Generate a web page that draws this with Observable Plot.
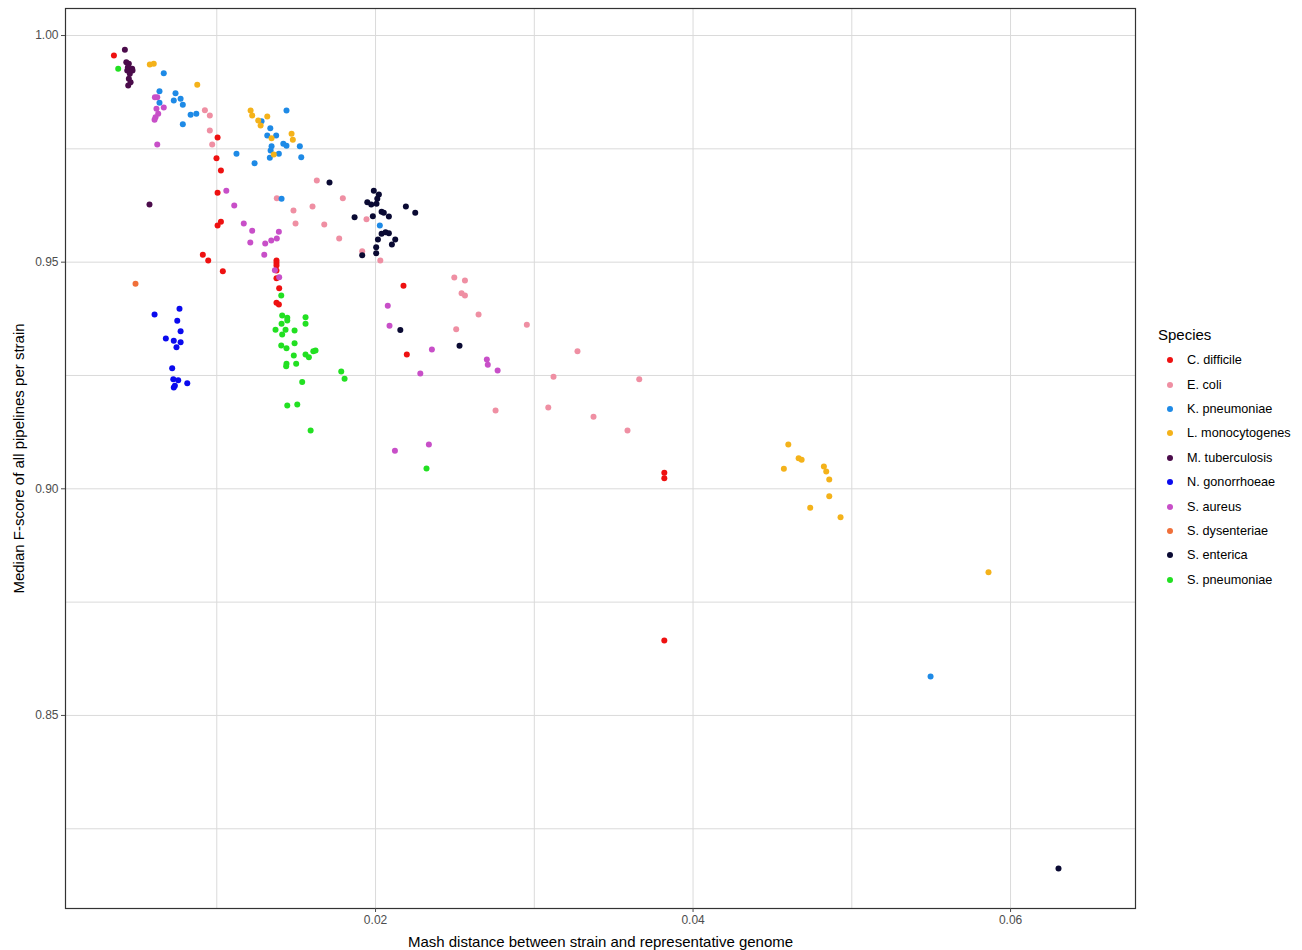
<!DOCTYPE html>
<html><head><meta charset="utf-8">
<script src="https://cdn.jsdelivr.net/npm/d3@7"></script>
<script src="https://cdn.jsdelivr.net/npm/@observablehq/plot@0.6"></script>
<style>
html,body{margin:0;padding:0;background:#fff;}
#wrap{position:relative;width:1302px;height:950px;font-family:"Liberation Sans",Arial,sans-serif;}
#legend{position:absolute;left:1158px;top:324px;color:#000;}
#legend .title{font-size:15px;height:24px;line-height:22px;}
#legend .item{height:24.4px;display:flex;align-items:center;font-size:12.7px;}
#legend .dot{width:6px;height:6px;border-radius:50%;margin-left:9px;margin-right:14px;}
svg [aria-label="x-axis label"] text, svg [aria-label="y-axis label"] text{fill:#000;font-size:15px;}
</style></head>
<body><div id="wrap"></div>
<script>
const species = ["C. difficile","E. coli","K. pneumoniae","L. monocytogenes","M. tuberculosis","N. gonorrhoeae","S. aureus","S. dysenteriae","S. enterica","S. pneumoniae"];
const speciesColors = ["#ee1111","#ef8fa3","#1e8ae6","#f4b21a","#4b0c4b","#0a0aee","#c84fc8","#f0703a","#0a0a33","#22e022"];
const xTicks = [0.02,0.04,0.06];
const yTicks = [0.85,0.90,0.95,1.00];

const cDifficile = [[0.00352,0.99559],[0.01005,0.97750],[0.00998,0.97293],[0.01026,0.97022],[0.01005,0.96530],[0.01026,0.95890],[0.01005,0.95809],[0.00912,0.95162],[0.00946,0.95036],[0.01038,0.94800],[0.01376,0.95036],[0.01376,0.94981],[0.01376,0.94926],[0.01376,0.94816],[0.01376,0.94646],[0.01393,0.94425],[0.01376,0.94103],[0.01391,0.94066],[0.02176,0.94478],[0.02197,0.92963],[0.03819,0.90353],[0.03819,0.90234],[0.03819,0.86653]];
const eColi = [[0.00925,0.98352],[0.00956,0.98235],[0.00956,0.97904],[0.00971,0.97595],[0.01378,0.96411],[0.01630,0.96801],[0.01794,0.96411],[0.01483,0.96139],[0.01603,0.96228],[0.01496,0.95853],[0.01677,0.95831],[0.01771,0.95522],[0.01943,0.95947],[0.01916,0.95242],[0.02030,0.95036],[0.02496,0.94661],[0.02563,0.94595],[0.02542,0.94315],[0.02563,0.94264],[0.02649,0.93845],[0.02508,0.93521],[0.02953,0.93618],[0.03272,0.93036],[0.03121,0.92471],[0.03661,0.92418],[0.02756,0.91727],[0.03088,0.91794],[0.03373,0.91588],[0.03587,0.91286]];
const kPneumoniae = [[0.00666,0.99168],[0.00639,0.98771],[0.00740,0.98727],[0.00729,0.98566],[0.00772,0.98604],[0.00786,0.98471],[0.00639,0.98515],[0.00835,0.98251],[0.00871,0.98273],[0.00786,0.98043],[0.01124,0.97390],[0.01238,0.97183],[0.01439,0.98345],[0.01282,0.98109],[0.01337,0.97955],[0.01318,0.97794],[0.01374,0.97794],[0.01345,0.97558],[0.01339,0.97463],[0.01334,0.97302],[0.01391,0.97390],[0.01419,0.97611],[0.01439,0.97567],[0.01523,0.97558],[0.01532,0.97315],[0.01408,0.96398],[0.02027,0.95809],[0.05496,0.85859]];
const lMonocytogenes = [[0.00578,0.99360],[0.00603,0.99376],[0.00877,0.98912],[0.01213,0.98345],[0.01223,0.98235],[0.01261,0.98125],[0.01276,0.98015],[0.01318,0.98213],[0.01345,0.97734],[0.01359,0.97375],[0.01471,0.97831],[0.01479,0.97699],[0.04600,0.90977],[0.04665,0.90675],[0.04684,0.90640],[0.04572,0.90441],[0.04824,0.90492],[0.04839,0.90382],[0.04858,0.90205],[0.04858,0.89837],[0.04738,0.89581],[0.04929,0.89374],[0.05861,0.88160]];
const mTuberculosis = [[0.00421,0.99685],[0.00430,0.99411],[0.00446,0.99376],[0.00467,0.99265],[0.00436,0.99228],[0.00452,0.99155],[0.00446,0.99045],[0.00457,0.98970],[0.00442,0.98897],[0.00440,0.99301],[0.00469,0.99228],[0.00576,0.96272]];
const nGonorrhoeae = [[0.00765,0.93971],[0.00608,0.93845],[0.00751,0.93706],[0.00772,0.93477],[0.00679,0.93316],[0.00729,0.93265],[0.00772,0.93234],[0.00746,0.93124],[0.00719,0.92660],[0.00726,0.92418],[0.00757,0.92396],[0.00814,0.92330],[0.00729,0.92235],[0.00736,0.92272]];
const sAureus = [[0.00610,0.98639],[0.00625,0.98639],[0.00620,0.98383],[0.00666,0.98412],[0.00631,0.98273],[0.00614,0.98198],[0.00608,0.98140],[0.00625,0.97595],[0.01060,0.96574],[0.01110,0.96250],[0.01170,0.95853],[0.01223,0.95692],[0.01211,0.95433],[0.01299,0.95162],[0.01305,0.95411],[0.01343,0.95478],[0.01378,0.95522],[0.01391,0.95670],[0.01366,0.94822],[0.01393,0.94668],[0.02077,0.94037],[0.02088,0.93596],[0.02355,0.93073],[0.02282,0.92544],[0.02701,0.92852],[0.02707,0.92736],[0.02769,0.92610],[0.02336,0.90977],[0.02122,0.90838]];
const sDysenteriae = [[0.00488,0.94522]];
const sEnterica = [[0.01710,0.96757],[0.01989,0.96574],[0.02021,0.96492],[0.02011,0.96398],[0.01948,0.96323],[0.01973,0.96272],[0.02006,0.96287],[0.02191,0.96228],[0.02250,0.96089],[0.01868,0.95992],[0.01983,0.96014],[0.02038,0.96111],[0.02052,0.96089],[0.02084,0.96007],[0.02038,0.95625],[0.02063,0.95661],[0.02084,0.95639],[0.02124,0.95500],[0.02015,0.95500],[0.02103,0.95389],[0.02004,0.95330],[0.02004,0.95197],[0.01916,0.95153],[0.02156,0.93501],[0.02529,0.93155],[0.06302,0.81623]];
const sPneumoniae = [[0.00379,0.99265],[0.01406,0.94264],[0.01412,0.93823],[0.01444,0.93772],[0.01559,0.93786],[0.01559,0.93640],[0.01408,0.93640],[0.01444,0.93713],[0.01370,0.93508],[0.01433,0.93508],[0.01490,0.93492],[0.01412,0.93404],[0.01490,0.93212],[0.01406,0.93161],[0.01439,0.93102],[0.01622,0.93051],[0.01608,0.93036],[0.01485,0.92941],[0.01559,0.92963],[0.01580,0.92903],[0.01439,0.92758],[0.01437,0.92705],[0.01500,0.92758],[0.01538,0.92356],[0.01444,0.91838],[0.01507,0.91860],[0.01591,0.91286],[0.01784,0.92588],[0.01805,0.92427],[0.02321,0.90448]];

const seriesBySpecies = [cDifficile,eColi,kPneumoniae,lMonocytogenes,mTuberculosis,nGonorrhoeae,sAureus,sDysenteriae,sEnterica,sPneumoniae];
const rows = [];
seriesBySpecies.forEach((arr,i)=>arr.forEach(([x,y])=>rows.push({species:species[i],x,y})));

const xGrid = [0.01,0.02,0.03,0.04,0.05,0.06];
const yGrid = [0.825,0.85,0.875,0.90,0.925,0.95,0.975,1.00];

const chart = Plot.plot({
  width:1302, height:950,
  marginLeft:65, marginRight:167, marginTop:8, marginBottom:42,
  style:{fontFamily:"'Liberation Sans', Arial, sans-serif", fontSize:"12px", background:"#fff"},
  x:{domain:[0.00047,0.06787]},
  y:{domain:[0.80741,1.00596]},
  color:{domain:species, range:speciesColors},
  marks:[
    Plot.gridX(xGrid,{stroke:"#dadada",strokeOpacity:1}),
    Plot.gridY(yGrid,{stroke:"#dadada",strokeOpacity:1}),
    Plot.frame({stroke:"#333",strokeWidth:1.2}),
    Plot.axisX(xTicks,{tickSize:4,tickPadding:3,tickFormat:d3.format(".2f"),color:"#4d4d4d",fontSize:12,
      label:"Mash distance between strain and representative genome",labelAnchor:"center",labelOffset:38,labelArrow:"none"}),
    Plot.axisY(yTicks,{tickSize:4,tickPadding:3,tickFormat:d3.format(".2f"),color:"#4d4d4d",fontSize:12,
      label:"Median F-score of all pipelines per strain",labelAnchor:"center",labelOffset:52,labelArrow:"none"}),
    Plot.dot(rows,{x:"x",y:"y",fill:"species",r:3,stroke:null})
  ]
});
document.getElementById("wrap").appendChild(chart);

const lg = document.createElement("div");
lg.id = "legend";
lg.innerHTML = `<div class="title">Species</div>` + species.map((s,i)=>
  `<div class="item"><span class="dot" style="background:${speciesColors[i]}"></span><span>${s}</span></div>`).join("");
document.getElementById("wrap").appendChild(lg);
</script>
</body></html>
